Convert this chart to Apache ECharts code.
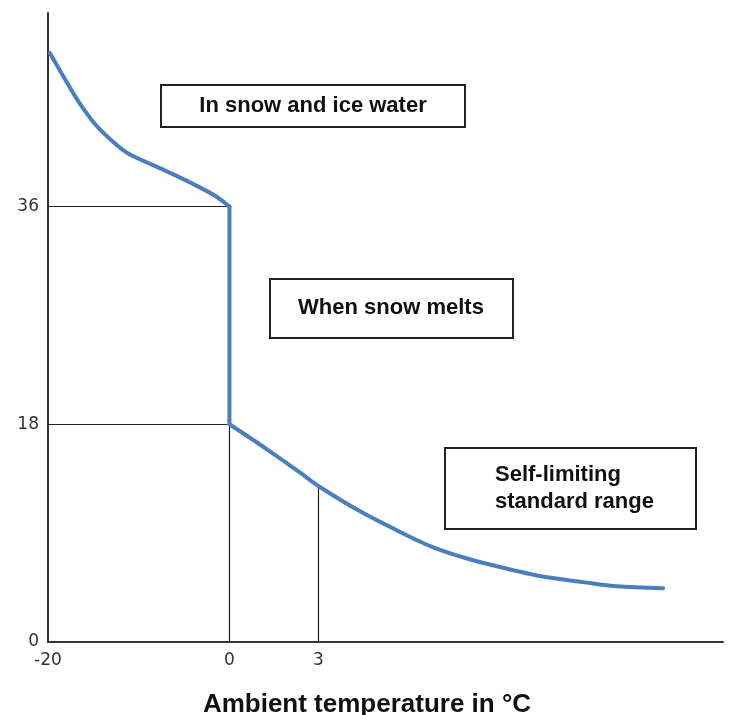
<!DOCTYPE html>
<html>
<head>
<meta charset="utf-8">
<script src="https://cdn.jsdelivr.net/npm/echarts@6/dist/echarts.min.js"></script>
<style>
  html, body { margin: 0; padding: 0; background: #fff; }
  #chart { width: 734px; height: 715px; }
</style>
</head>
<body>
<div id="chart"></div>
<script>
// x is the axis position: -20..0 is linear in °C, the part right of 0 is drawn stretched
// (the "3" label sits at position 9.8), just like the original sketch
const xTickPos = [-20, 0, 9.8];
const xTickLabels = ['-20', '0', '3'];
const yTicks = [0, 18, 36];

// "In snow and ice water" branch
const coldCurve = [[-19.8, 48.7], [-18.5, 47.0], [-17.4, 45.6], [-16.3, 44.3], [-14.8, 42.8],
  [-12.9, 41.4], [-11.2, 40.4], [-8.8, 39.55], [-6.3, 38.7], [-3.7, 37.75], [-1.5, 36.85], [0, 36]];
// "When snow melts" drop
const meltDrop = [[0, 36], [0, 18]];
// "Self-limiting standard range" branch
const warmCurve = [[0, 18], [4.1, 15.95], [7.8, 14.0], [9.8, 12.9], [14.4, 10.8], [18.8, 9.1],
  [22.4, 7.85], [26.2, 6.9], [29.8, 6.2], [34.2, 5.45], [39.0, 4.95], [42.7, 4.6], [47.8, 4.45]];

// helper lines: horizontal ones from the y axis to 0, vertical ones from the x axis up to the curve
const hGuides = [36, 18];
const vGuides = [[0, 18], [9.8, 12.9]];

const blue = '#4a7fbf';
const font = '"Liberation Sans", Arial, sans-serif';

let guideData = [];
hGuides.forEach(v => guideData.push({ coords: [[-20, v], [0, v]] }));
vGuides.forEach(p => guideData.push({ coords: [[p[0], 0], p] }));

let chart = echarts.init(document.getElementById('chart'));
let option = {
  backgroundColor: '#fff',
  animation: false,
  grid: { left: 48, right: 11, top: 13, bottom: 73, outerBoundsMode: 'none', containLabel: false },
  xAxis: {
    type: 'value',
    min: -20,
    max: 54.4,
    name: 'Ambient temperature in °C',
    nameLocation: 'middle',
    nameGap: 50,
    nameTextStyle: { fontFamily: font, fontWeight: 'bold', fontSize: 26, color: '#111', padding: [0, 37, 0, 0] },
    axisLine: { onZero: false, lineStyle: { color: '#333', width: 2 } },
    axisTick: { show: false },
    splitLine: { show: false },
    axisLabel: {
      customValues: xTickPos,
      formatter: v => xTickLabels[xTickPos.indexOf(v)],
      fontFamily: '"DejaVu Sans", sans-serif',
      fontSize: 17,
      color: '#333',
      margin: 10
    }
  },
  yAxis: {
    type: 'value',
    min: 0,
    max: 52,
    axisLine: { show: true, onZero: false, lineStyle: { color: '#333', width: 2 } },
    axisTick: { show: false },
    splitLine: { show: false },
    axisLabel: {
      customValues: yTicks,
      fontFamily: '"DejaVu Sans", sans-serif',
      fontSize: 17,
      color: '#333',
      margin: 9
    }
  },
  series: [
    {
      type: 'lines',
      coordinateSystem: 'cartesian2d',
      silent: true,
      lineStyle: { color: '#222', width: 1.2, opacity: 1 },
      data: guideData,
      z: 1
    },
    {
      type: 'line', data: coldCurve, smooth: 0.3, showSymbol: false,
      lineStyle: { color: blue, width: 4, cap: 'round' }, z: 3
    },
    {
      type: 'line', data: meltDrop, showSymbol: false,
      lineStyle: { color: blue, width: 4, cap: 'round' }, z: 3
    },
    {
      type: 'line', data: warmCurve, smooth: 0.3, showSymbol: false,
      lineStyle: { color: blue, width: 4, cap: 'round' }, z: 3
    }
  ],
  graphic: [
    { type: 'rect', shape: { x: 161, y: 85, width: 304, height: 42 }, style: { fill: '#fff', stroke: '#222', lineWidth: 2 } },
    { type: 'text', style: { x: 313, y: 106, text: 'In snow and ice water', align: 'center', verticalAlign: 'middle',
      fontFamily: font, fontWeight: 'bold', fontSize: 22, fill: '#111' } },
    { type: 'rect', shape: { x: 270, y: 279, width: 243, height: 59 }, style: { fill: '#fff', stroke: '#222', lineWidth: 2 } },
    { type: 'text', style: { x: 391, y: 308, text: 'When snow melts', align: 'center', verticalAlign: 'middle',
      fontFamily: font, fontWeight: 'bold', fontSize: 22, fill: '#111' } },
    { type: 'rect', shape: { x: 445, y: 448, width: 251, height: 81 }, style: { fill: '#fff', stroke: '#222', lineWidth: 2 } },
    { type: 'text', style: { x: 495, y: 488, text: 'Self-limiting\nstandard range', align: 'left', verticalAlign: 'middle',
      lineHeight: 27, fontFamily: font, fontWeight: 'bold', fontSize: 22, fill: '#111' } }
  ]
};
chart.setOption(option);
</script>
</body>
</html>
